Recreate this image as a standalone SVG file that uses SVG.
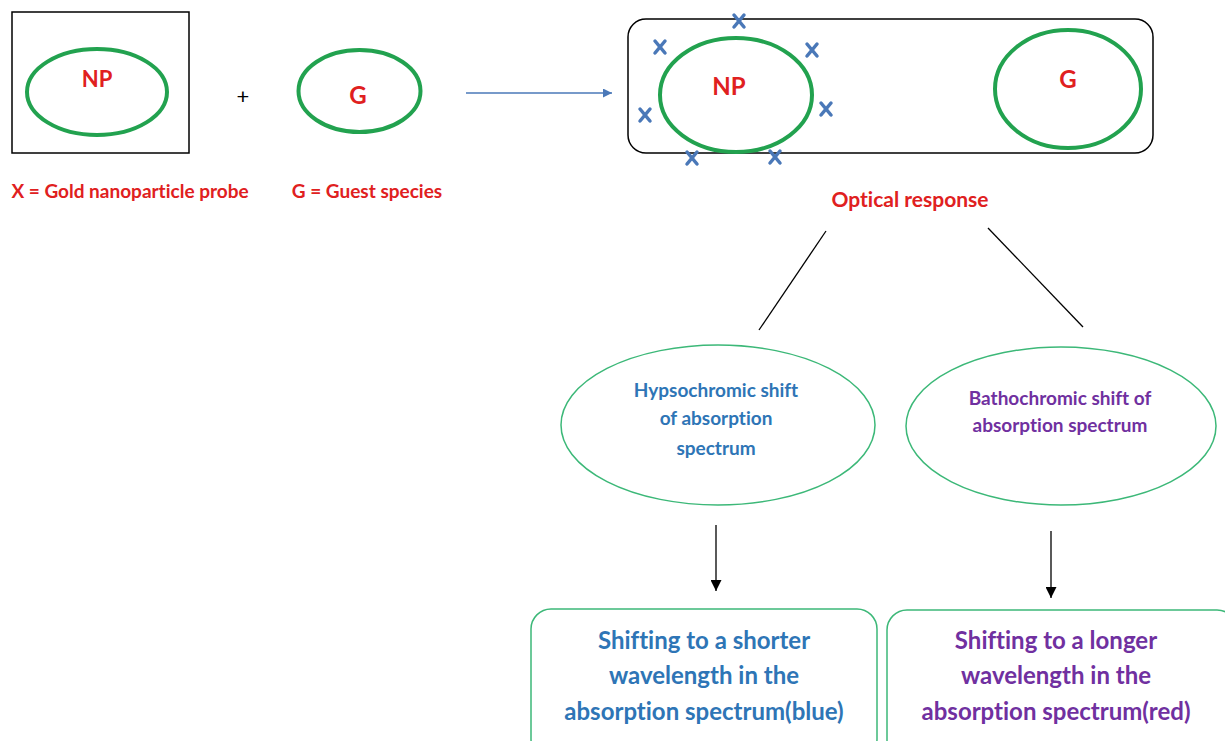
<svg xmlns="http://www.w3.org/2000/svg" width="1225" height="741" viewBox="0 0 1225 741">
<defs>
<style>
text{font-family:Lato,"Open Sans","Liberation Sans",sans-serif;font-weight:bold;text-anchor:middle;font-variant-ligatures:none;font-feature-settings:"liga" 0}
.red{fill:#e02020}
.blue{fill:#2e75b6}
.purple{fill:#7030a0}
.thick{fill:none;stroke:#22a24f;stroke-width:4}
.thin{fill:none;stroke:#3cb878;stroke-width:1.5}
.xm{stroke:#4a78b8;stroke-width:3.5;stroke-linecap:round}
.conn{stroke:#000;stroke-width:1.3;fill:none}
</style>
<marker id="ah" viewBox="0 0 10 10" refX="10" refY="5" markerWidth="12" markerHeight="11" markerUnits="userSpaceOnUse" orient="auto"><path d="M0,0 L10,5 L0,10 z" fill="#000"/></marker>
<marker id="ahb" viewBox="0 0 10 10" refX="10" refY="5" markerWidth="10" markerHeight="9" markerUnits="userSpaceOnUse" orient="auto"><path d="M0,0 L10,5 L0,10 z" fill="#4a78b8"/></marker>
<symbol id="x" overflow="visible"><line class="xm" x1="-5" y1="-6" x2="5" y2="6"/><line class="xm" x1="5" y1="-6" x2="-5" y2="6"/></symbol>
</defs>
<rect width="1225" height="741" fill="#fff"/>

<g id="np-probe">
<rect x="12" y="12" width="177" height="141" fill="none" stroke="#000" stroke-width="1.5"/>
<ellipse class="thick" cx="97" cy="92" rx="70" ry="43"/>
<text class="red" x="97" y="87" font-size="22">NP</text>
</g>
<text id="plus" x="243" y="104" font-size="22" style="font-weight:normal">+</text>
<g id="guest">
<ellipse class="thick" cx="359.5" cy="91" rx="61" ry="41"/>
<text class="red" x="358" y="104" font-size="24">G</text>
</g>
<g id="legend">
<text class="red" x="130" y="198" font-size="19">X = Gold nanoparticle probe</text>
<text class="red" x="367" y="198" font-size="19">G = Guest species</text>
</g>

<g id="complex">
<rect x="628" y="19" width="525" height="134" rx="18" fill="none" stroke="#000" stroke-width="1.5"/>
<ellipse class="thick" cx="736" cy="95" rx="76" ry="57"/>
<text class="red" x="729" y="95" font-size="24">NP</text>
<ellipse class="thick" cx="1068" cy="89" rx="73" ry="59"/>
<text class="red" x="1068" y="88" font-size="24">G</text>
<use href="#x" x="739" y="21"/>
<use href="#x" x="660" y="47"/>
<use href="#x" x="812" y="50"/>
<use href="#x" x="645" y="115"/>
<use href="#x" x="826" y="109"/>
<use href="#x" x="692" y="158"/>
<use href="#x" x="775" y="157"/>
</g>

<text id="optical" class="red" x="910" y="207" font-size="21">Optical response</text>

<g id="hypso">
<ellipse class="thin" cx="718" cy="425" rx="157" ry="80"/>
<text class="blue" font-size="19"><tspan x="716" y="397">Hypsochromic shift</tspan><tspan x="716" y="425">of absorption</tspan><tspan x="716" y="455">spectrum</tspan></text>
</g>
<g id="batho">
<ellipse class="thin" cx="1061" cy="426" rx="155" ry="79"/>
<text class="purple" font-size="19"><tspan x="1060" y="405">Bathochromic shift of</tspan><tspan x="1060" y="432">absorption spectrum</tspan></text>
</g>

<g id="shorter">
<rect class="thin" x="531" y="609" width="346" height="150" rx="20"/>
<text class="blue" font-size="24"><tspan x="704" y="649">Shifting to a shorter</tspan><tspan x="704" y="684">wavelength in the</tspan><tspan x="704" y="720">absorption spectrum(blue)</tspan></text>
</g>
<g id="longer">
<rect class="thin" x="887" y="610" width="350" height="150" rx="20"/>
<text class="purple" font-size="24"><tspan x="1056" y="649">Shifting to a longer</tspan><tspan x="1056" y="684">wavelength in the</tspan><tspan x="1056" y="720">absorption spectrum(red)</tspan></text>
</g>

<g id="connectors">
<line x1="466" y1="93" x2="612" y2="93" stroke="#4a78b8" stroke-width="1.3" marker-end="url(#ahb)"/>
<line class="conn" x1="826" y1="231" x2="759" y2="330"/>
<line class="conn" x1="988" y1="228" x2="1083" y2="327"/>
<line class="conn" x1="716" y1="525" x2="716" y2="591" marker-end="url(#ah)"/>
<line class="conn" x1="1051" y1="531" x2="1051" y2="598" marker-end="url(#ah)"/>
</g>
</svg>
